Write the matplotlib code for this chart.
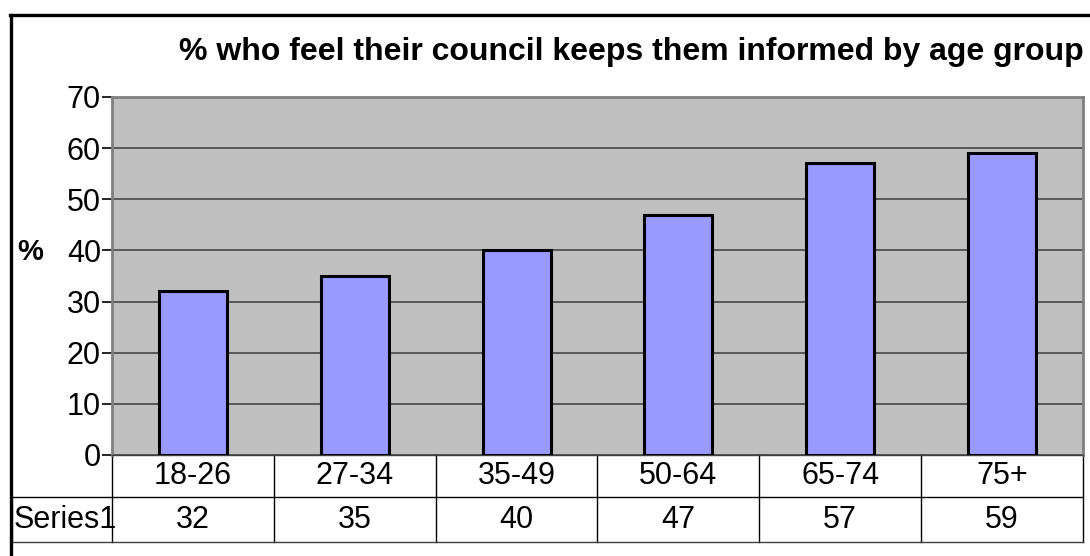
import matplotlib.pyplot as plt
from matplotlib.transforms import blended_transform_factory

# data
categories = ['18-26', '27-34', '35-49', '50-64', '65-74', '75+']
values = [32, 35, 40, 47, 57, 59]
series_name = 'Series1'
yticks = [0, 10, 20, 30, 40, 50, 60, 70]

plt.rcParams['font.family'] = ['Liberation Sans', 'DejaVu Sans']

fig = plt.figure(figsize=(10.9, 5.56), dpi=100)
ax = fig.add_axes([112/1090, 1-455/556, 971/1090, 358/556])
ax.set_facecolor('#C0C0C0')

x = list(range(len(categories)))
ax.bar(x, values, width=0.42, color='#9999FF', edgecolor='black', linewidth=2.2, zorder=3)

ax.set_xlim(-0.5, len(categories)-0.5)
ax.set_ylim(0, 70)
ax.set_yticks(yticks)
ax.set_yticklabels([str(t) for t in yticks], fontsize=22)
ax.tick_params(axis='y', direction='out', length=7, width=1.2, color='black', pad=1)
ax.set_xticks([])
ax.grid(axis='y', color='#505050', linewidth=1.3, zorder=1)
ax.set_axisbelow(True)
for s in ['left', 'top', 'right']:
    ax.spines[s].set_color('#808080')
    ax.spines[s].set_linewidth(2)
ax.spines['bottom'].set_color('#404040')
ax.spines['bottom'].set_linewidth(1)

# y label
fig.text(30/1090, 1-252/556, '%', fontsize=21, fontweight='bold', ha='center', va='center')

# title
fig.text(631/1090, 1-52/556, '% who feel their council keeps them informed by age group',
         fontsize=23, fontweight='bold', ha='center', va='center')

# data table under the plot
tr = blended_transform_factory(ax.transData, ax.transAxes)
r1 = -42/358
r2 = -87/358
left_cell = -0.5 - 100/161.8
for i in range(len(categories)+1):
    ax.plot([i-0.5, i-0.5], [0, r2], transform=tr, color='black', lw=1, clip_on=False)
ax.plot([left_cell, left_cell], [r1, r2], transform=tr, color='#808080', lw=1, clip_on=False)
ax.plot([left_cell, len(categories)-0.5], [r1, r1], transform=tr, color='black', lw=1, clip_on=False)
ax.plot([left_cell, len(categories)-0.5], [r2, r2], transform=tr, color='#404040', lw=1, clip_on=False)
for i, (c, v) in enumerate(zip(categories, values)):
    ax.text(i, r1/2, c, transform=tr, ha='center', va='center', fontsize=22)
    ax.text(i, (r1+r2)/2, str(v), transform=tr, ha='center', va='center', fontsize=22)
ax.text(left_cell+0.008, (r1+r2)/2, series_name, transform=tr, ha='left', va='center', fontsize=22)

# outer chart frame
fig.add_artist(plt.Line2D([11/1090, 11/1090], [0, 1-15/556], color='black', lw=2.4))
fig.add_artist(plt.Line2D([10/1090, 1], [1-15/556, 1-15/556], color='black', lw=2.4))

plt.savefig('out.png', dpi=100)
